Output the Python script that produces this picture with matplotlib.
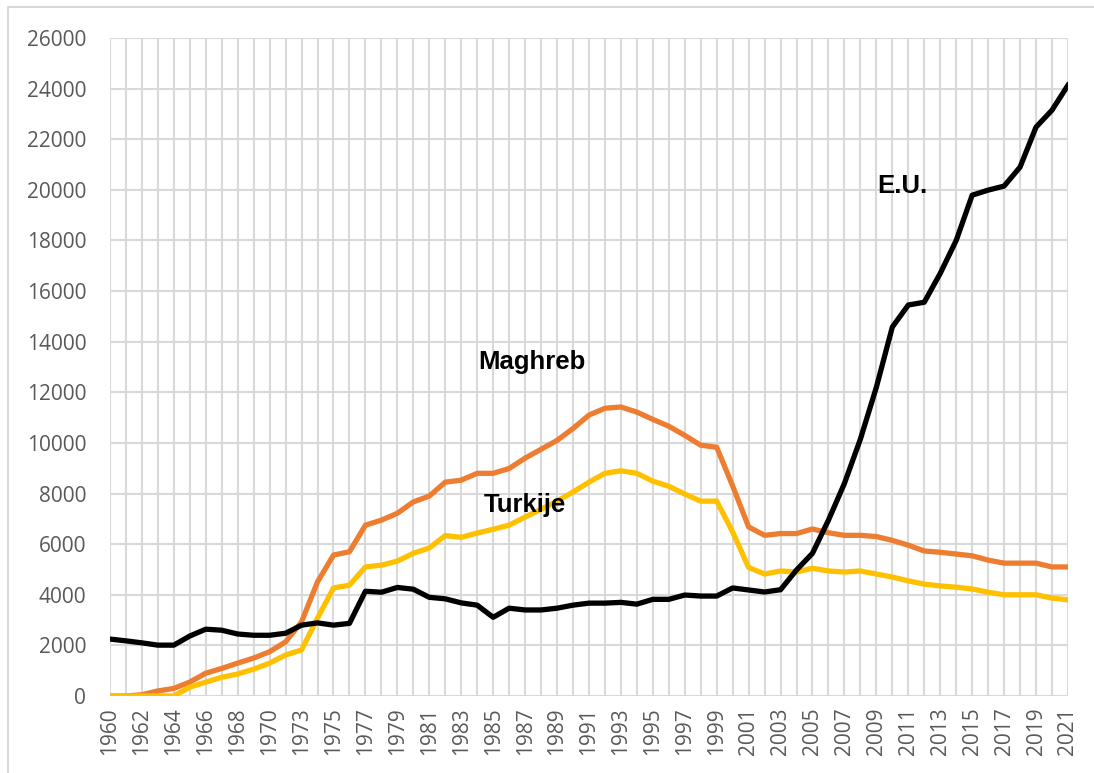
import matplotlib
matplotlib.use('Agg')
import matplotlib.pyplot as plt
from matplotlib.patches import Rectangle

# categories (1972 is not in the source series)
years = list(range(1960, 1972)) + list(range(1973, 2022))

eu = [2250, 2180, 2100, 2010, 2010, 2370, 2640, 2600, 2450, 2400, 2400, 2480,
      2800, 2890, 2800, 2870, 4140, 4100, 4290, 4220,
      3900, 3840, 3680, 3590, 3110, 3470, 3400, 3400, 3470, 3590,
      3670, 3670, 3700, 3630, 3820, 3820, 3990, 3950, 3950, 4270,
      4190, 4110, 4200, 4980, 5640, 6950, 8400, 10150, 12200, 14580,
      15450, 15560, 16700, 18000, 19790, 19990, 20150, 20900, 22480, 23150, 24135]

maghreb = [0, 0, 50, 200, 300, 550, 900, 1090, 1300, 1500, 1750, 2140,
           2930, 4510, 5570, 5700, 6750, 6950, 7220, 7670,
           7900, 8450, 8530, 8800, 8800, 8990, 9400, 9750, 10100, 10570,
           11100, 11370, 11420, 11220, 10930, 10660, 10300, 9910, 9830, 8300,
           6680, 6350, 6420, 6420, 6600, 6450, 6350, 6350, 6300, 6150,
           5960, 5730, 5680, 5610, 5540, 5370, 5250, 5250, 5250, 5100, 5100]

turkije = [0, 0, 0, 0, 0, 350, 550, 740, 870, 1060, 1300, 1620,
           1820, 3080, 4270, 4380, 5100, 5170, 5330, 5640,
           5850, 6340, 6270, 6440, 6590, 6750, 7070, 7380, 7700, 8060,
           8450, 8800, 8900, 8800, 8490, 8290, 7980, 7700, 7700, 6480,
           5080, 4820, 4940, 4900, 5050, 4940, 4900, 4940, 4820, 4700,
           4550, 4420, 4350, 4300, 4230, 4100, 4000, 4000, 4000, 3870, 3800]

y_ticks = list(range(0, 26001, 2000))

grid_col = '#d9d9d9'
tick_col = '#595959'

fig = plt.figure(figsize=(10.94, 7.73), dpi=100)
ax = fig.add_axes([0.1005, 0.0996, 0.8757, 0.8512])

# outer chart border
fig.patches.append(Rectangle((0.0073, -0.05), 1.1, 0.991 + 0.05,
                             transform=fig.transFigure, fill=False,
                             edgecolor=grid_col, linewidth=1.5))

x = list(range(len(years)))
ax.plot(x, maghreb, color='#ED7D31', linewidth=3.8, solid_joinstyle='round', zorder=3)
ax.plot(x, turkije, color='#FFC000', linewidth=3.8, solid_joinstyle='round', zorder=3)
ax.plot(x, eu, color='black', linewidth=3.8, solid_joinstyle='round', zorder=4)

ax.set_xlim(0, len(years) - 1)
ax.set_ylim(0, 26000)
ax.set_xticks(x)
ax.set_xticklabels([str(y) if i % 2 == 0 else '' for i, y in enumerate(years)],
                   rotation=90, fontsize=15, family='Open Sans', color=tick_col)
ax.set_yticks(y_ticks)
ax.set_yticklabels([str(v) for v in y_ticks], fontsize=15,
                   family='Open Sans', color=tick_col)
ax.tick_params(axis='both', length=0)
ax.tick_params(axis='y', pad=17)
ax.tick_params(axis='x', pad=8)

ax.grid(True, color=grid_col, linewidth=1.5)
ax.set_axisbelow(True)
for s in ax.spines.values():
    s.set_visible(False)

lbl = dict(fontsize=18.5, fontweight='bold', family='Liberation Sans',
           ha='center', va='center', zorder=5)
ax.text(49.65, 20150, 'E.U.', **lbl)
ax.text(26.4, 13190, 'Maghreb', **lbl)
ax.text(26.0, 7540, 'Turkije', **lbl)

fig.savefig('out.png', dpi=100)
